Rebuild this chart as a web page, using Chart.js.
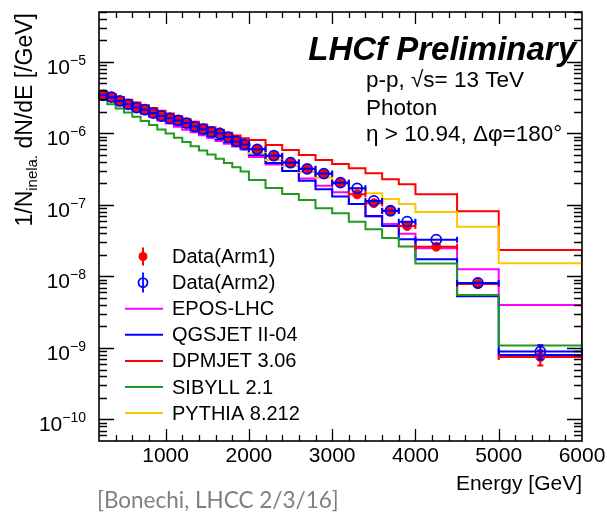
<!DOCTYPE html>
<html>
<head>
<meta charset="utf-8">
<script src="https://cdn.jsdelivr.net/npm/chart.js@4.4.1/dist/chart.umd.min.js"></script>
<style>
  html, body { margin: 0; padding: 0; background: #fff; }
</style>
</head>
<body>
<canvas id="myChart" width="607" height="518"></canvas>
<script>
// bin edges in GeV (100 GeV bins, then 200 GeV, then wide bins)
const binEdges = [200, 300, 400, 500, 600, 700, 800, 900, 1000, 1100, 1200, 1300, 1400, 1500,
  1600, 1700, 1800, 1900, 2000, 2200, 2400, 2600, 2800, 3000, 3200, 3400, 3600, 3800, 4000,
  4500, 5000, 6000];

const arm1 = [3.38e-6, 3.27e-6, 2.88e-6, 2.59e-6, 2.32e-6, 2.18e-6, 1.95e-6, 1.72e-6, 1.66e-6,
  1.55e-6, 1.39e-6, 1.27e-6, 1.16e-6, 1.06e-6, 1.03e-6, 9.0e-7, 7.85e-7, 7.13e-7, 6.07e-7,
  4.84e-7, 3.95e-7, 3.19e-7, 2.71e-7, 2.05e-7, 1.41e-7, 1.06e-7, 8.24e-8, 5.08e-8, 2.61e-8,
  7.85e-9, 7.5e-10];
const arm1Err = [0, 0, 0, 0, 0, 0, 0, 0, 0, 0, 0, 0, 0, 0, 0, 0, 0, 0, 0, 0, 0, 0, 0, 0, 0, 0, 0,
  0, 0, 0, 1.8e-10];

const arm2 = [3.42e-6, 3.22e-6, 2.85e-6, 2.56e-6, 2.30e-6, 2.15e-6, 1.93e-6, 1.75e-6, 1.63e-6,
  1.52e-6, 1.40e-6, 1.25e-6, 1.15e-6, 1.05e-6, 1.00e-6, 8.9e-7, 7.75e-7, 7.0e-7, 6.0e-7,
  4.9e-7, 3.9e-7, 3.2e-7, 2.75e-7, 2.05e-7, 1.71e-7, 1.14e-7, 8.3e-8, 5.84e-8, 3.27e-8,
  8.1e-9, 8.9e-10];
const arm2Err = [0, 0, 0, 0, 0, 0, 0, 0, 0, 0, 0, 0, 0, 0, 0, 0, 0, 0, 0, 0, 0, 0, 0, 0, 0, 0, 0,
  0, 0, 0, 2.0e-10];

const epos = [3.32e-6, 2.99e-6, 2.65e-6, 2.37e-6, 2.11e-6, 1.89e-6, 1.70e-6, 1.52e-6, 1.38e-6,
  1.24e-6, 1.13e-6, 1.04e-6, 9.44e-7, 8.62e-7, 7.85e-7, 7.18e-7, 6.56e-7, 5.97e-7, 4.69e-7,
  3.68e-7, 2.99e-7, 2.35e-7, 1.86e-7, 1.51e-7, 1.03e-7, 6.90e-8, 5.42e-8, 3.96e-8, 2.48e-8,
  1.26e-8, 3.99e-9];
const qgsjet = [3.27e-6, 2.97e-6, 2.69e-6, 2.44e-6, 2.21e-6, 2.00e-6, 1.82e-6, 1.65e-6, 1.50e-6,
  1.35e-6, 1.23e-6, 1.12e-6, 1.01e-6, 9.17e-7, 8.29e-7, 7.53e-7, 6.84e-7, 6.19e-7, 5.0e-7,
  3.87e-7, 2.99e-7, 2.19e-7, 1.66e-7, 1.31e-7, 1.03e-7, 7.0e-8, 5.1e-8, 3.31e-8, 1.74e-8,
  5.3e-9, 8.0e-10];
const dpmjet = [3.86e-6, 3.54e-6, 3.24e-6, 2.96e-6, 2.71e-6, 2.48e-6, 2.27e-6, 2.08e-6, 1.91e-6,
  1.74e-6, 1.60e-6, 1.46e-6, 1.34e-6, 1.22e-6, 1.12e-6, 1.02e-6, 9.38e-7, 8.59e-7, 8.1e-7,
  6.9e-7, 5.88e-7, 5.0e-7, 4.26e-7, 3.74e-7, 3.26e-7, 2.77e-7, 2.29e-7, 1.95e-7, 1.41e-7,
  8.17e-8, 2.35e-8];
const sibyll = [2.94e-6, 2.57e-6, 2.24e-6, 1.96e-6, 1.71e-6, 1.50e-6, 1.31e-6, 1.14e-6, 9.97e-7,
  8.71e-7, 7.61e-7, 6.64e-7, 5.80e-7, 5.07e-7, 4.43e-7, 3.87e-7, 3.38e-7, 2.95e-7, 2.24e-7,
  1.73e-7, 1.42e-7, 1.175e-7, 8.99e-8, 7.65e-8, 5.84e-8, 4.57e-8, 3.46e-8, 2.63e-8, 1.52e-8,
  5.51e-9, 1.08e-9];
const pythia = [3.32e-6, 3.02e-6, 2.74e-6, 2.49e-6, 2.26e-6, 2.05e-6, 1.87e-6, 1.69e-6, 1.54e-6,
  1.40e-6, 1.27e-6, 1.15e-6, 1.05e-6, 9.51e-7, 8.62e-7, 7.84e-7, 7.13e-7, 6.46e-7, 5.25e-7,
  4.26e-7, 3.51e-7, 2.89e-7, 2.42e-7, 1.97e-7, 1.70e-7, 1.46e-7, 1.21e-7, 1.03e-7, 7.98e-8,
  4.97e-8, 1.53e-8];
// where the last bin's right edge drops to (EPOS and DPMJET show it)
const eposEdgeDrop = 3.6e-10;
const dpmjetEdgeDrop = 6.8e-10;

const xTickLabels = [1000, 2000, 3000, 4000, 5000, 6000];
const yTickExps = [-10, -9, -8, -7, -6, -5];
const legendNames = ["Data(Arm1)", "Data(Arm2)", "EPOS-LHC", "QGSJET II-04", "DPMJET 3.06",
  "SIBYLL 2.1", "PYTHIA 8.212"];

const FONT = '"Liberation Sans", Arial, Helvetica, sans-serif';
const colors = {
  arm1: "#ff0000", arm2: "#0000ff", epos: "#ff00ff", qgsjet: "#0000ff",
  dpmjet: "#ff0000", sibyll: "#1f9a1f", pythia: "#ffc600",
};

const centers = binEdges.slice(0, -1).map((e, i) => (e + binEdges[i + 1]) / 2);
const lastEdge = binEdges[binEdges.length - 1];

function histPoints(vals, drop) {
  const pts = vals.map((v, i) => ({ x: binEdges[i], y: v }));
  pts.push({ x: lastEdge, y: vals[vals.length - 1] });
  if (drop) pts.push({ x: lastEdge, y: drop });
  return pts;
}
function dataPoints(vals) {
  return vals.map((v, i) => ({ x: centers[i], y: v }));
}
function histSet(label, vals, color, drop) {
  return {
    label, data: histPoints(vals, drop), stepped: "before", borderColor: color,
    borderWidth: 2, pointRadius: 0, fill: false, order: 10,
  };
}

// error bars drawn right before each data set's markers
const errorBars = {
  id: "errorBars",
  beforeDatasetDraw(chart, args) {
    const ds = chart.data.datasets[args.index];
    if (!ds.errs) return;
    const { ctx, scales: { x, y } } = chart;
    ctx.save();
    ctx.strokeStyle = ds.pointBorderColor;
    ctx.lineWidth = 2;
    ds.data.forEach((p, i) => {
      const py = y.getPixelForValue(p.y);
      const x0 = x.getPixelForValue(binEdges[i]);
      const x1 = x.getPixelForValue(binEdges[i + 1]);
      ctx.beginPath();
      ctx.moveTo(x0, py); ctx.lineTo(x1, py);
      ctx.moveTo(x0, py - 3); ctx.lineTo(x0, py + 3);
      ctx.moveTo(x1, py - 3); ctx.lineTo(x1, py + 3);
      const e = ds.errs[i];
      if (e > 0) {
        const yt = y.getPixelForValue(p.y + e);
        const yb = y.getPixelForValue(p.y - e);
        const px = x.getPixelForValue(p.x);
        ctx.moveTo(px, yt); ctx.lineTo(px, yb);
        ctx.moveTo(px - 3, yt); ctx.lineTo(px + 3, yt);
        ctx.moveTo(px - 3, yb); ctx.lineTo(px + 3, yb);
      }
      ctx.stroke();
    });
    ctx.restore();
  },
};

// ROOT-style frame, inward ticks, labels, legend and text
const decor = {
  id: "decor",
  afterDraw(chart) {
    const { ctx, chartArea: a, scales: { x, y } } = chart;
    ctx.save();
    ctx.strokeStyle = "#000";
    ctx.lineWidth = 1.6;
    ctx.strokeRect(a.left, a.top, a.right - a.left, a.bottom - a.top);

    ctx.lineWidth = 1.3;
    ctx.beginPath();
    for (let e = -11; e <= -5; e++) {
      for (let m = 1; m <= 9; m++) {
        const v = m * Math.pow(10, e);
        if (v < y.min || v > y.max) continue;
        const py = Math.round(y.getPixelForValue(v)) + 0.5;
        const len = m === 1 ? 15 : 8;
        ctx.moveTo(a.left, py); ctx.lineTo(a.left + len, py);
        ctx.moveTo(a.right, py); ctx.lineTo(a.right - len, py);
      }
    }
    for (let v = 400; v < 6000; v += 200) {
      const px = Math.round(x.getPixelForValue(v)) + 0.5;
      const len = v % 1000 === 0 ? 12 : 6;
      ctx.moveTo(px, a.bottom); ctx.lineTo(px, a.bottom - len);
      ctx.moveTo(px, a.top); ctx.lineTo(px, a.top + len);
    }
    ctx.stroke();

    // tick labels
    ctx.fillStyle = "#000";
    ctx.textBaseline = "alphabetic";
    ctx.textAlign = "center";
    ctx.font = "21px " + FONT;
    xTickLabels.forEach(v => ctx.fillText(String(v), x.getPixelForValue(v), a.bottom + 21));

    yTickExps.forEach(e => {
      const py = y.getPixelForValue(Math.pow(10, e));
      const exp = "\u2212" + Math.abs(e);
      ctx.font = "14px " + FONT;
      const we = ctx.measureText(exp).width;
      ctx.textAlign = "right";
      ctx.fillText(exp, 86, py + 3);
      ctx.font = "21px " + FONT;
      ctx.fillText("10", 86 - we, py + 12);
    });

    // axis titles
    ctx.textAlign = "right";
    ctx.font = "21px " + FONT;
    ctx.fillText("Energy [GeV]", a.right, 490);

    ctx.save();
    ctx.translate(32, 13);
    ctx.rotate(-Math.PI / 2);
    ctx.textAlign = "left";
    const parts = [["1/N", 23, 0], ["inela.", 15, 5], [" dN/dE [/GeV]", 23, 0]];
    let total = 0;
    parts.forEach(p => { ctx.font = p[1] + "px " + FONT; total += ctx.measureText(p[0]).width; });
    let cx = -total;
    parts.forEach(p => {
      ctx.font = p[1] + "px " + FONT;
      ctx.fillText(p[0], cx, p[2]);
      cx += ctx.measureText(p[0]).width;
    });
    ctx.restore();

    // header text
    ctx.textAlign = "right";
    ctx.font = "italic bold 33px " + FONT;
    ctx.fillText("LHCf Preliminary", 576, 60);
    ctx.textAlign = "left";
    ctx.font = "22.5px " + FONT;
    ctx.fillText("p-p, \u221As= 13 TeV", 366, 87);
    ctx.fillText("Photon", 366, 115);
    ctx.fillText("\u03B7 > 10.94, \u0394\u03C6=180\u00B0", 366, 141);

    // legend
    const rowY = i => 256.5 + i * 26.1;
    ctx.textBaseline = "middle";
    ctx.font = "20px " + FONT;
    legendNames.forEach((n, i) => ctx.fillText(n, 172, rowY(i) + 1));
    ctx.lineWidth = 2;
    ctx.strokeStyle = colors.arm1;
    ctx.fillStyle = colors.arm1;
    ctx.beginPath(); ctx.moveTo(143, rowY(0) - 9); ctx.lineTo(143, rowY(0) + 9); ctx.stroke();
    ctx.beginPath(); ctx.arc(143, rowY(0), 4.5, 0, Math.PI * 2); ctx.fill();
    ctx.strokeStyle = colors.arm2;
    ctx.lineWidth = 1.8;
    ctx.beginPath(); ctx.moveTo(143, rowY(1) - 10); ctx.lineTo(143, rowY(1) + 10); ctx.stroke();
    ctx.beginPath(); ctx.arc(143, rowY(1), 4.5, 0, Math.PI * 2); ctx.stroke();
    ctx.lineWidth = 2;
    [colors.epos, colors.qgsjet, colors.dpmjet, colors.sibyll, colors.pythia].forEach((c, k) => {
      const yy = rowY(k + 2);
      ctx.strokeStyle = c;
      ctx.beginPath(); ctx.moveTo(125, yy); ctx.lineTo(163, yy); ctx.stroke();
    });

    // caption under the plot
    ctx.textBaseline = "alphabetic";
    ctx.fillStyle = "#808080";
    ctx.font = '22.5px Lato, "Open Sans", sans-serif';
    ctx.fillText("[Bonechi, LHCC 2/3/16]", 97, 508);
    ctx.restore();
  },
};

new Chart(document.getElementById("myChart"), {
  type: "line",
  data: {
    datasets: [
      {
        label: "Data(Arm2)", data: dataPoints(arm2), errs: arm2Err, showLine: false,
        pointRadius: 5, pointBorderWidth: 1.8, pointBackgroundColor: "rgba(0,0,0,0)",
        pointBorderColor: colors.arm2, order: 0,
      },
      {
        label: "Data(Arm1)", data: dataPoints(arm1), errs: arm1Err, showLine: false,
        pointRadius: 4.5, pointBorderWidth: 1, pointBackgroundColor: colors.arm1,
        pointBorderColor: colors.arm1, order: 1,
      },
      histSet("PYTHIA 8.212", pythia, colors.pythia),
      histSet("SIBYLL 2.1", sibyll, colors.sibyll),
      histSet("DPMJET 3.06", dpmjet, colors.dpmjet, dpmjetEdgeDrop),
      histSet("QGSJET II-04", qgsjet, colors.qgsjet),
      histSet("EPOS-LHC", epos, colors.epos, eposEdgeDrop),
    ],
  },
  options: {
    responsive: false,
    animation: false,
    events: [],
    layout: { padding: { left: 99, right: 25, top: 12, bottom: 77 } },
    plugins: { legend: { display: false }, tooltip: { enabled: false } },
    scales: {
      x: { type: "linear", min: 200, max: 6000, display: false },
      y: { type: "logarithmic", min: 5e-11, max: 5e-5, display: false },
    },
  },
  plugins: [errorBars, decor],
});
</script>
</body>
</html>
